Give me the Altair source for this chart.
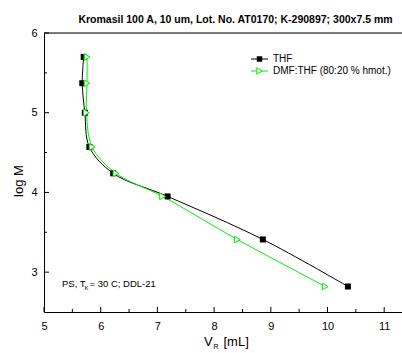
import altair as alt
import pandas as pd

# THF series
thf_vr = [5.70, 5.675, 5.72, 5.80, 6.22, 7.18, 8.86, 10.36]
thf_logm = [5.70, 5.37, 5.00, 4.57, 4.24, 3.95, 3.41, 2.82]
# DMF:THF series
dmf_vr = [5.76, 5.76, 5.75, 5.85, 6.27, 7.09, 8.41, 9.96]
dmf_logm = [5.70, 5.37, 5.00, 4.57, 4.24, 3.95, 3.41, 2.82]

x_major = [5, 6, 7, 8, 9, 10, 11]
x_minor = [5.5, 6.5, 7.5, 8.5, 9.5, 10.5]
y_major = [3, 4, 5, 6]
y_minor = [3.5, 4.5, 5.5]

W, H = 358, 279
FONT = "Liberation Sans"

thf = pd.DataFrame({"vr": thf_vr, "logm": thf_logm, "ord": range(len(thf_vr))})
dmf = pd.DataFrame({"vr": dmf_vr, "logm": dmf_logm, "ord": range(len(dmf_vr))})

xs = alt.Scale(domain=[5, 5 + W / 56.7], nice=False, zero=False)
ys = alt.Scale(domain=[2.5, 6], nice=False, zero=False)

xax = alt.Axis(values=x_major, ticks=False, grid=False, domainColor="black",
               labelColor="black", labelFont=FONT, labelFontSize=11,
               labelPadding=8, title=None, labelFlush=False)
yax = alt.Axis(values=y_major, ticks=False, grid=False, domainColor="black",
               labelColor="black", labelFont=FONT, labelFontSize=11,
               labelPadding=7, title=None)

def X(f):
    return alt.X(f, type="quantitative", scale=xs, axis=xax)

def Y(f):
    return alt.Y(f, type="quantitative", scale=ys, axis=yax)

GREEN = "#00f000"

thf_line = alt.Chart(thf).mark_line(color="black", strokeWidth=1, interpolate="catmull-rom").encode(
    x=X("vr"), y=Y("logm"), order="ord:O")
thf_pts = alt.Chart(thf).mark_point(shape="square", filled=True, color="black", size=36, opacity=1).encode(
    x=X("vr"), y=Y("logm"))
dmf_line = alt.Chart(dmf).mark_line(color=GREEN, strokeWidth=1, interpolate="catmull-rom").encode(
    x=X("vr"), y=Y("logm"), order="ord:O")
dmf_pts = alt.Chart(dmf).mark_point(shape="triangle-right", filled=True, fill="white", stroke=GREEN,
                                    size=45, strokeWidth=1, opacity=1).encode(
    x=X("vr"), y=Y("logm"))

# inward ticks
xt_major = alt.Chart(pd.DataFrame({"vr": x_major})).mark_rule(color="black").encode(
    x=X("vr"), y=alt.value(H), y2=alt.value(H - 5))
xt_minor = alt.Chart(pd.DataFrame({"vr": x_minor})).mark_rule(color="black").encode(
    x=X("vr"), y=alt.value(H), y2=alt.value(H - 3))
yt_major = alt.Chart(pd.DataFrame({"logm": y_major})).mark_rule(color="black").encode(
    y=Y("logm"), x=alt.value(0), x2=alt.value(5))
yt_minor = alt.Chart(pd.DataFrame({"logm": y_minor})).mark_rule(color="black").encode(
    y=Y("logm"), x=alt.value(0), x2=alt.value(3))
top_border = alt.Chart(pd.DataFrame({"a": [0]})).mark_rule(color="black").encode(
    x=alt.value(0), x2=alt.value(W), y=alt.value(0))

def txt(s, x, y, size=10, bold=False, align="left", angle=0, color="black", baseline="alphabetic"):
    kw = dict(text=s, font=FONT, fontSize=size, align=align, color=color, baseline=baseline)
    if bold:
        kw["fontWeight"] = "bold"
    if angle:
        kw["angle"] = angle
    return alt.Chart(pd.DataFrame({"a": [0]})).mark_text(**kw).encode(
        x=alt.value(x), y=alt.value(y))

title = txt("Kromasil 100 A, 10 um, Lot. No. AT0170; K-290897; 300x7.5 mm", 191.5, -10.5,
            size=10.5, bold=True, align="center")
ytitle = txt("log M", -25, 148, size=13, align="center", angle=270, baseline="middle")
xt1 = txt("V", 160, 313, size=13, align="left")
xt2 = txt("R", 169.5, 316, size=7, align="left")
xt3 = txt("[mL]", 179.5, 313, size=13, align="left")

ann1 = txt("PS, T", 18, 254, size=9.5)
ann2 = txt("K", 40.5, 256.5, size=6)
ann3 = txt("= 30 C; DDL-21", 45.5, 254, size=9.5)

# legend
leg_thf_line = alt.Chart(pd.DataFrame({"a": [0]})).mark_rule(color="black").encode(
    x=alt.value(207), x2=alt.value(224), y=alt.value(26))
leg_thf_pt = alt.Chart(pd.DataFrame({"a": [0]})).mark_point(
    shape="square", filled=True, color="black", size=30, opacity=1).encode(
    x=alt.value(215.5), y=alt.value(26))
leg_dmf_line = alt.Chart(pd.DataFrame({"a": [0]})).mark_rule(color=GREEN).encode(
    x=alt.value(207), x2=alt.value(224), y=alt.value(38))
leg_dmf_pt = alt.Chart(pd.DataFrame({"a": [0]})).mark_point(
    shape="triangle-right", filled=True, fill="white", stroke=GREEN, strokeWidth=1,
    size=40, opacity=1).encode(
    x=alt.value(215.5), y=alt.value(38))
leg_t1 = txt("THF", 229, 26, size=10, baseline="middle")
leg_t2 = txt("DMF:THF (80:20 % hmot.)", 229, 38, size=10, baseline="middle")

chart = alt.layer(
    thf_line, dmf_line, thf_pts, dmf_pts,
    top_border, xt_major, xt_minor, yt_major, yt_minor,
    leg_thf_line, leg_dmf_line, leg_thf_pt, leg_dmf_pt, leg_t1, leg_t2,
    title, ytitle, xt1, xt2, xt3, ann1, ann2, ann3,
).properties(
    width=W, height=H,
    autosize=alt.AutoSizeParams(type="none"),
    padding={"left": 44, "top": 33, "right": 0, "bottom": 41},
).configure_view(stroke=None).configure(background="white")

chart.save("out.html", embed_options={"renderer": "svg", "actions": False})
